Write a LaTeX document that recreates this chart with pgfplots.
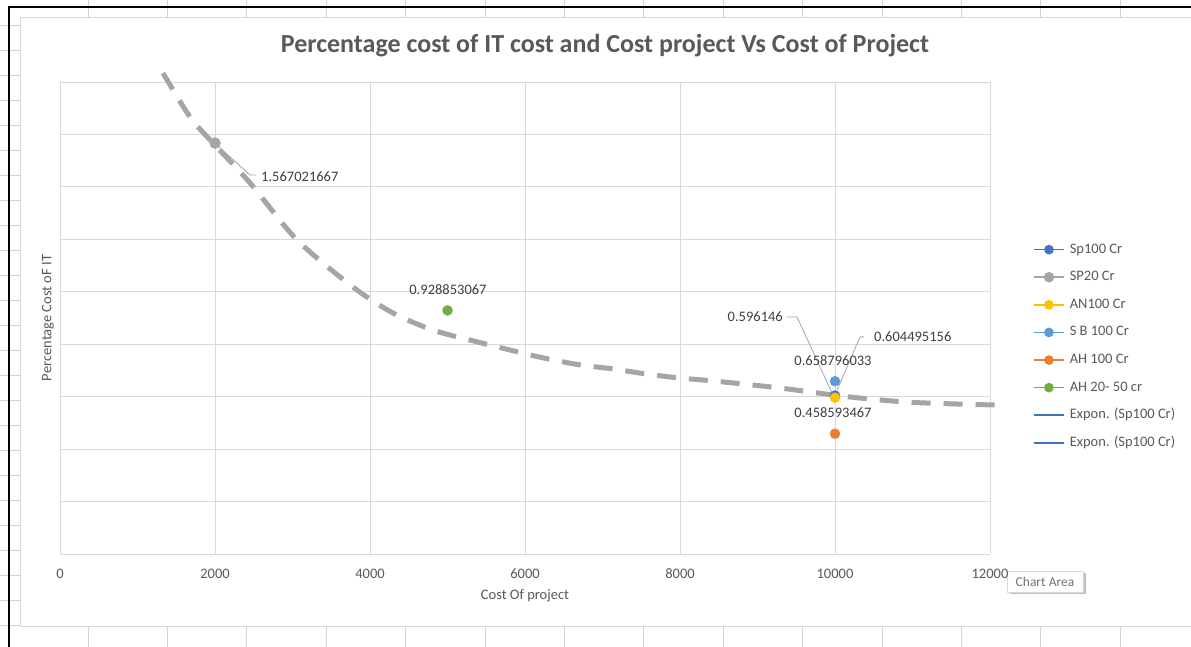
\documentclass[border=0pt]{standalone}
\usepackage{fontspec}
\setmainfont{Carlito}
\usepackage{pgfplots}
\pgfplotsset{compat=1.18}
\definecolor{txt}{HTML}{595959}
\definecolor{grd}{HTML}{D9D9D9}
\definecolor{sheet}{HTML}{D4D4D4}
\definecolor{cBlue}{HTML}{4472C4}
\definecolor{cGray}{HTML}{A5A5A5}
\definecolor{cGold}{HTML}{FFC000}
\definecolor{cLBlue}{HTML}{5B9BD5}
\definecolor{cOrange}{HTML}{ED7D31}
\definecolor{cGreen}{HTML}{70AD47}
\definecolor{lbl}{HTML}{404040}
\definecolor{lead}{HTML}{A6A6A6}
\begin{document}
\begin{tikzpicture}
\path[use as bounding box] (0pt,0pt) rectangle (1191pt,647pt);
\fill[white] (0pt,0pt) rectangle (1191pt,647pt);
% spreadsheet grid outside the chart
\foreach \k in {0,...,13} {
  \draw[sheet, line width=0.8pt] ({88pt+79.4pt*\k},630pt) -- ({88pt+79.4pt*\k},647pt);
  \draw[sheet, line width=0.8pt] ({88pt+79.4pt*\k},0pt) -- ({88pt+79.4pt*\k},21pt);
}
\foreach \k in {1,...,25} {
  \draw[sheet, line width=0.8pt] (0pt,{647pt-25pt*\k}) -- (20pt,{647pt-25pt*\k});
}
% chart area
\draw[grd, fill=white, line width=0.8pt] (20pt,21pt) rectangle (1195pt,630pt);
\draw[black, line width=2pt] (9pt,0pt) -- (9pt,640pt) -- (1191pt,640pt);
% title
\node[font=\fontsize{26}{30}\selectfont\bfseries, text=txt] at (605pt,601pt) {Percentage cost of IT cost and Cost project Vs Cost of Project};
% tooltip
\fill[black!25] (1010pt,53pt) rectangle (1086pt,74pt);
\draw[grd, fill=white] (1007pt,55pt) rectangle (1083pt,76pt);
\node[font=\fontsize{13.5}{16}\selectfont, text=txt!85] at (1045pt,65.5pt) {Chart Area};
\begin{axis}[
  at={(60pt,93pt)}, anchor=south west, scale only axis,
  width=930pt, height=472pt,
  xmin=0, xmax=12000, ymin=0, ymax=1.8,
  xtick={0,2000,4000,6000,8000,10000,12000},
  scaled x ticks=false,
  ytick={0,0.2,0.4,0.6,0.8,1.0,1.2,1.4,1.6,1.8}, yticklabels={},
  grid=major, major grid style={grd, line width=0.8pt},
  axis line style={draw=none}, major tick length=0pt,
  /pgf/number format/1000 sep={}, /pgf/number format/assume math mode=true,
  ticklabel style={font=\fontsize{14.5}{17}\selectfont, text=txt},
  xticklabel style={anchor=center, yshift=-20pt},
  xlabel={Cost Of project}, ylabel={Percentage Cost oF IT},
  label style={font=\fontsize{14.5}{17}\selectfont, text=txt},
  xlabel style={at={(axis description cs:0.5,0)}, anchor=center, yshift=-42pt},
  ylabel style={at={(axis description cs:-0.0129,0.5)}, anchor=center},
  clip=false,
  legend style={at={(rel axis cs:1.0462,0.659)}, anchor=north west, draw=none, fill=none,
    font=\fontsize{14.5}{17}\selectfont, text=txt, inner sep=0pt,
    nodes={inner sep=0pt, text height=10pt, text depth=3pt},
    row sep=14.6pt, column sep=5pt},
  legend cell align=left,
  legend image code/.code={\draw[mark repeat=2, mark phase=2, #1, line width=1.6pt, /tikz/every mark/.append style={scale=0.8}] plot coordinates {(0pt,0pt) (15pt,0pt) (30pt,0pt)};},
]
% trend line (dashed)
\addplot[cGray, line width=5pt, dash pattern=on 19pt off 13pt, smooth, no markers, forget plot] coordinates {
(1329,1.834) (1677,1.667) (1974,1.567) (2452,1.415) (3058,1.198) (3781,1.018)
(4297,0.919) (4813,0.854) (5381,0.809) (5806,0.778) (6232,0.748) (6710,0.721)
(7135,0.706) (7574,0.686) (8000,0.671) (8426,0.660) (9290,0.633) (10155,0.600)
(11006,0.578) (12100,0.568)};
\addplot[color=cBlue, mark=*, mark size=5pt] coordinates {(10000,0.604495156)};
\addlegendentry{Sp100 Cr}
\addplot[color=cGray, mark=*, mark size=5.5pt] coordinates {(2000,1.567021667)};
\addlegendentry{SP20 Cr}
\addplot[color=cGold, mark=*, mark size=5pt] coordinates {(10000,0.596146)};
\addlegendentry{AN100 Cr}
\addplot[color=cLBlue, mark=*, mark size=5pt] coordinates {(10000,0.658796033)};
\addlegendentry{S B 100 Cr}
\addplot[color=cOrange, mark=*, mark size=5pt] coordinates {(10000,0.458593467)};
\addlegendentry{AH 100 Cr}
\addplot[color=cGreen, mark=*, mark size=5pt] coordinates {(5000,0.928853067)};
\addlegendentry{AH 20- 50 cr}
\addlegendimage{color=cBlue, no markers}
\addlegendentry{Expon. (Sp100 Cr)}
\addlegendimage{color=cBlue, no markers}
\addlegendentry{Expon. (Sp100 Cr)}
% data labels and leader lines
\draw[lead, line width=0.8pt] (axis cs:2000,1.567) -- (axis cs:2452,1.445) -- (axis cs:2529,1.445);
\node[anchor=west, font=\fontsize{14.5}{17}\selectfont, text=lbl, inner sep=0pt] at (axis cs:2594,1.438) {1.567021667};
\node[font=\fontsize{14.5}{17}\selectfont, text=lbl, inner sep=0pt] at (axis cs:5006,1.007) {0.928853067};
\draw[lead, line width=0.8pt] (axis cs:9380,0.904) -- (axis cs:9510,0.904) -- (axis cs:9961,0.614);
\node[anchor=east, font=\fontsize{14.5}{17}\selectfont, text=lbl, inner sep=0pt] at (axis cs:9329,0.904) {0.596146};
\draw[lead, line width=0.8pt] (axis cs:10374,0.828) -- (axis cs:10323,0.828) -- (axis cs:10026,0.625);
\node[anchor=west, font=\fontsize{14.5}{17}\selectfont, text=lbl, inner sep=0pt] at (axis cs:10503,0.828) {0.604495156};
\node[font=\fontsize{14.5}{17}\selectfont, text=lbl, inner sep=0pt] at (axis cs:9974,0.736) {0.658796033};
\node[font=\fontsize{14.5}{17}\selectfont, text=lbl, inner sep=0pt] at (axis cs:9974,0.538) {0.458593467};
\end{axis}
\end{tikzpicture}
\end{document}
